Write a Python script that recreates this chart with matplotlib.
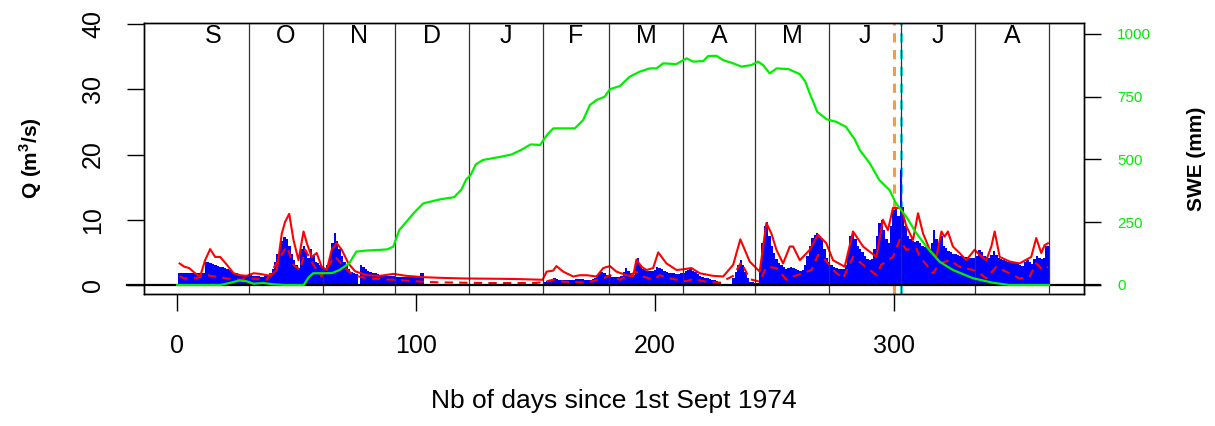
import numpy as np
import matplotlib
matplotlib.use("Agg")
import matplotlib.pyplot as plt
import matplotlib.transforms as mtransforms

plt.rcParams['font.family'] = ['Liberation Sans', 'DejaVu Sans']
plt.rcParams['mathtext.fontset'] = 'custom'
plt.rcParams['mathtext.rm'] = 'Liberation Sans'
plt.rcParams['mathtext.bf'] = 'Liberation Sans:bold'

# ---------------- data ----------------
nan = np.nan
# observed daily discharge Q (m3/s), days 1..365 since 1st Sept 1974
q_obs = [
    # 1-30
    1.8, 1.8, 1.8, 1.8, 1.8, 1.8, 1.8, 1.8, 1.8, 1.8,
    1.8, 3.6, 3.5, 3.3, 3.2, 3.1, 2.9, 2.8, 2.7, 2.6,
    2.4, 2.3, 2.1, 1.9, 1.8, 1.7, 1.6, 1.5, 1.5, 1.5,
    # 31-60
    1.5, 1.4, 1.4, 1.4, 1.3, 1.3, 1.4, 1.5, 1.8, 2.5,
    3.5, 4.8, 6.0, 6.8, 7.3, 7.0, 6.0, 4.8, 3.8, 3.0,
    2.6, 5.5, 6.0, 5.0, 4.2, 5.5, 4.5, 3.6, 3.3, 3.0,
    # 61-90
    2.8, 2.5, 3.0, 4.5, 6.5, 8.0, 6.8, 5.5, 4.5, 3.6,
    3.0, 2.4, 2.0, 1.8, 1.7, nan, 3.1, 2.7, 2.4, 2.2,
    2.0, 1.9, 1.8, 1.7, 1.6, 1.5, 1.5, 1.4, 1.4, 1.4,
    # 91-120
    1.4, 1.3, 1.3, 1.3, 1.3, 1.3, 1.3, 1.3, 1.3, 1.3,
    1.2, 1.8, 1.8, nan, nan, nan, nan, nan, nan, nan,
    nan, nan, nan, nan, nan, nan, nan, nan, nan, nan,
    # 121-150
    nan, nan, nan, nan, nan, nan, nan, nan, nan, nan,
    nan, nan, nan, nan, nan, nan, nan, nan, nan, nan,
    nan, nan, nan, nan, nan, nan, nan, nan, nan, nan,
    # 151-180
    nan, nan, nan, 0.5, 0.6, 0.8, 0.9, 1.0, 0.9, 0.8,
    0.7, 0.7, 0.7, 0.8, 0.8, 0.8, 0.9, 0.9, 0.9, 0.9,
    0.8, 0.8, 0.8, 0.9, 1.0, 1.5, 2.0, 2.0, 1.8, 1.6,
    # 181-210
    1.5, 1.2, 1.2, 1.3, 1.3, 1.4, 2.0, 2.6, 2.2, 1.8,
    1.6, 3.5, 4.1, 3.0, 2.5, 2.3, 2.2, 2.2, 2.1, 2.3,
    2.8, 2.6, 2.4, 2.2, 2.0, 1.9, 1.8, 1.8, 1.7, 1.7,
    # 211-240
    1.8, 1.9, 2.1, 2.3, 2.4, 2.2, 2.0, 1.7, 1.4, 1.2,
    1.1, 1.0, 0.9, 0.8, 0.7, 0.6, 0.5, nan, nan, nan,
    nan, nan, 1.0, 2.0, 3.0, 3.8, 3.0, 2.0, 1.0, 0.5,
    # 241-270
    0.4, 0.3, 0.3, 2.5, 6.5, 9.0, 9.7, 7.5, 5.9, 4.9,
    4.0, 3.3, 3.0, 2.7, 2.5, 2.6, 2.8, 2.6, 2.4, 2.3,
    2.2, 2.3, 3.0, 4.5, 6.0, 7.2, 7.6, 8.0, 7.5, 7.0,
    # 271-300
    5.5, 4.2, 3.5, 3.0, 2.8, 2.6, 2.5, 2.4, 2.5, 3.0,
    5.0, 7.5, 8.3, 7.0, 6.0, 5.5, 5.0, 4.5, 4.0, 3.8,
    4.0, 5.5, 7.5, 9.5, 10.0, 8.5, 7.0, 6.5, 9.0, 11.5,
    # 301-330
    11.8, 10.5, 17.6, 12.0, 9.0, 7.5, 7.0, 6.8, 6.6, 6.8,
    6.4, 6.0, 5.8, 5.6, 5.5, 6.5, 8.4, 7.0, 6.5, 7.5,
    6.0, 5.6, 5.2, 5.0, 4.8, 4.7, 4.6, 4.5, 4.4, 4.3,
    # 331-365
    4.3, 4.2, 4.1, 4.1, 4.5, 5.4, 5.0, 4.5, 4.3, 4.2,
    4.6, 5.2, 4.6, 4.2, 4.0, 3.8, 3.7, 3.6, 3.5, 3.4,
    3.3, 3.2, 3.0, 2.9, 3.5, 3.8, 3.5, 3.2, 4.0, 4.5,
    4.2, 4.0, 4.2, 6.0, 6.0,
]
obs_days = list(range(1, 366))

# simulated upper envelope (solid red)
upper_days = [1, 3, 5, 7.5, 9.6, 11.7, 13.8, 15.9, 18, 20.8, 23.6, 26.4, 29, 32, 34.7, 39,
              41.7, 43.8, 45.2, 46.9, 48.7, 50.8, 52.9, 54.3, 56.3, 58.4, 60.5, 62.6, 64.7,
              66.8, 68.9, 71.7, 74.5, 79.4, 84.9, 90.5, 96, 103, 110, 120, 135, 143.5, 153,
              154.7, 157.4, 158.8, 161.6, 165.8, 168.6, 171.4, 175.6, 178.4, 181.2, 183.9,
              188.1, 190.9, 192.3, 194.4, 196.5, 199.3, 201.4, 204.9, 209.1, 211.8, 215.3,
              218.8, 224.4, 228.6, 232.8, 235.8, 239.7, 243.9, 246.7, 248.8, 250.9, 253.7,
              256.5, 257.9, 260.7, 264.9, 268.3, 271.8, 274.6, 279.5, 283, 287.2, 292.8,
              295.5, 297.6, 299.7, 303.2, 305.3, 308.1, 310.2, 312.3, 315.1, 317.9, 320,
              321.3, 322.7, 324.8, 327.6, 330.4, 333.9, 336, 338.8, 340.9, 342.3, 344.4,
              348.5, 352.7, 357.6, 359.7, 361.8, 363.2, 364.6]
upper_q = [3.3, 2.8, 2.6, 1.8, 1.3, 3.8, 5.5, 4.3, 4.3, 3.1, 1.8, 1.5, 1.4, 1.8, 1.7, 1.4,
           2.3, 7.9, 9.7, 10.9, 6.9, 3.8, 8.2, 6.4, 4.3, 4.9, 2.8, 2.3, 5.4,
           6.4, 5.4, 3.3, 2.1, 1.5, 1.4, 1.7, 1.4, 1.2, 1.1, 1.0, 0.95, 0.9, 0.8,
           2.05, 2.2, 2.9, 2.05, 1.3, 1.5, 1.5, 1.3, 2.6, 2.9, 2.05,
           1.5, 1.3, 3.9, 2.8, 2.3, 2.6, 5.0, 3.3, 2.3, 2.4, 2.6,
           1.8, 1.4, 1.3, 3.1, 7.0, 3.6, 2.05, 9.5, 7.9, 5.4, 3.3,
           5.9, 5.9, 3.8, 5.4, 7.7, 6.4, 3.8, 2.8, 8.2, 5.9, 4.3,
           10.0, 8.4, 11.8, 11.8, 9.0, 6.9, 11.0, 7.9, 5.4, 4.3, 8.2,
           7.4, 8.2, 5.9, 4.9, 3.8, 5.4, 4.6, 3.8, 5.9, 8.2, 4.3,
           3.6, 3.3, 4.3, 7.2, 4.9, 6.1, 6.4]

# simulated lower envelope (dashed red)
lower_days = [1, 3, 7, 12.4, 15.9, 20.8, 26.4, 30.5, 37.5, 43.1, 45.9, 48.7, 51.5, 53.6, 57,
              60.5, 64, 66.1, 69.6, 73.8, 79.4, 90.5, 103, 110, 130, 150, 154, 157.4, 161.6,
              171.4, 178.4, 181.2, 185.3, 192.3, 195.1, 199.3, 202.1, 207.7, 213.2, 216,
              221.6, 227.2, 232.8, 236.2, 239.7, 243.9, 246.7, 250.9, 255.1, 257.9, 262,
              265.6, 268.3, 270.4, 274.6, 278.8, 283, 287.2, 292.8, 294.8, 296.9, 299.7,
              302.5, 305.3, 309.5, 310.9, 313.7, 316.5, 319.2, 323.4, 327.6, 333.2, 336,
              338.8, 343, 348.5, 352.7, 356.9, 359.7, 362.5, 364.6]
lower_q = [1.3, 1.0, 1.0, 1.5, 1.3, 1.0, 0.8, 1.0, 0.8, 4.3, 5.9, 3.1, 2.3, 5.4, 3.1,
           1.3, 3.3, 4.4, 2.8, 1.5, 1.0, 0.8, 0.5, 0.4, 0.3, 0.3, 0.5, 0.8, 0.5,
           0.36, 1.0, 1.5, 0.8, 2.0, 1.3, 0.8, 1.5, 0.9, 0.6, 0.9,
           0.5, 0.36, 1.4, 3.5, 0.9, 0.5, 2.8, 2.6, 0.8, 1.3, 1.8,
           2.3, 4.6, 4.3, 2.3, 1.0, 4.3, 3.1, 1.5, 3.1, 3.6, 4.3,
           6.9, 5.4, 5.6, 4.3, 3.1, 1.8, 3.3, 3.8, 2.8, 2.3, 1.8,
           1.0, 2.8, 1.8, 1.0, 1.3, 3.3, 2.3, 2.8]

# snow water equivalent (mm), right axis
swe_days = [0, 18, 22, 26, 29, 32, 36, 40, 45, 53, 55, 57, 62, 65, 68, 72, 75, 79, 85, 88,
            90.5, 93, 96, 99, 103, 110, 116, 119, 121, 123, 125, 128, 135, 140, 144, 148,
            152, 155, 157.5, 166.5, 170, 172.8, 175.6, 179, 181.2, 185.4, 189.5, 193.7,
            197.9, 200.7, 203.5, 209, 213.3, 216, 220.3, 222.3, 225.8, 228.6, 232.8, 236.3,
            240.4, 243.2, 245.3, 248.1, 251, 256, 260.7, 263, 265, 268, 272, 276, 280,
            283.7, 285.8, 290, 294, 298.3, 301, 305.3, 309.5, 313.7, 319.2, 324.8, 333.2,
            341.5, 348.5, 365]
swe_mm = [0, 0, 8, 18, 15, 5, 8, 3, 0, 0, 30, 47, 47, 48, 60, 86, 133, 137, 140, 142,
          153, 219, 252, 286, 325, 341, 350, 380, 420, 440, 480, 498, 510, 520, 538, 560,
          558, 600, 624, 624, 657, 717, 737, 750, 780, 793, 830, 850,
          863, 863, 883, 880, 903, 890, 892, 912, 913, 896, 883, 870,
          876, 890, 876, 843, 863, 860, 840, 810, 760, 690, 660, 650, 630,
          580, 538, 485, 418, 378, 325, 272, 206, 153, 93, 60, 27,
          9, 0, 0]

month_starts = [30, 61, 91, 122, 153, 181, 212, 242, 273, 303, 334, 365]
month_letters = ['S', 'O', 'N', 'D', 'J', 'F', 'M', 'A', 'M', 'J', 'J', 'A']
month_bounds = [0] + month_starts
peak_obs_day = 303
peak_sim_day = 300

q_ticks = [0, 10, 20, 30, 40]
swe_ticks = [0, 250, 500, 750, 1000]
day_ticks = [0, 100, 200, 300]

# ---------------- figure ----------------
W, H, DPI = 1215, 426, 100
fig = plt.figure(figsize=(W / DPI, H / DPI), dpi=DPI)
L, R, T, B = 144, 1084, 22.7, 294
ax = fig.add_axes([L / W, 1 - B / H, (R - L) / W, (B - T) / H])
ax.set_xlim(-13.9, 379.7)
ax.set_ylim(-1.38, 40.2)

# vertical reference lines (behind bars)
ax.axvline(peak_sim_day, color='#FF9933', lw=2.2, ls=(0, (3, 2.5)), zorder=1)
ax.axvline(peak_obs_day, color='#33E6F0', lw=2.2, ls=(0, (3, 2.5)), zorder=1)

# observed bars
d = np.array(obs_days, dtype=float)
q = np.array(q_obs, dtype=float)
m = np.isfinite(q)
ax.bar(d[m], q[m], width=1.0, color='#0000FF', linewidth=0, antialiased=False, zorder=2)

# simulated envelope
ax.plot(upper_days, upper_q, color='#FF0000', lw=1.5, zorder=3)
ax.plot(lower_days, lower_q, color='#FF0000', lw=1.5, ls=(0, (4, 3)), zorder=3)

# month separators and labels
for ms in month_starts:
    ax.axvline(ms, color='#333333', lw=0.9, zorder=4)
for i, lab in enumerate(month_letters):
    xc = 0.5 * (month_bounds[i] + month_bounds[i + 1])
    ax.text(xc, 37.1, lab, ha='center', va='baseline', fontsize=18, zorder=5)

# zero line extending beyond the box
blend = mtransforms.blended_transform_factory(ax.transAxes, ax.transData)
ax.plot([(127 - L) / (R - L), (1100 - L) / (R - L)], [0, 0], color='black', lw=1.6,
        transform=blend, clip_on=False, zorder=6)

# axes styling
for sp in ax.spines.values():
    sp.set_linewidth(1.0)
ax.set_xticks(day_ticks)
ax.set_yticks(q_ticks)
ax.tick_params(axis='both', direction='out', length=12, width=1.0, labelsize=18)
ax.tick_params(axis='x', pad=17)
ax.tick_params(axis='y', pad=16)
for lbl in ax.get_yticklabels():
    lbl.set_rotation(90)
    lbl.set_va('center')
ax.set_xlabel('Nb of days since 1st Sept 1974', fontsize=19, labelpad=22)
ax.set_ylabel(r'Q (m$^{\mathbf{3}}$/s)', fontsize=15, fontweight='bold', labelpad=27)

# SWE on right axis
ax2 = ax.twinx()
ax2.set_ylim(-35.9, 1045)
ax2.plot(swe_days, swe_mm, color='#00EE00', lw=1.6, zorder=5)
ax2.set_yticks(swe_ticks)
ax2.tick_params(axis='y', direction='out', length=12, width=1.0, labelsize=11,
                labelcolor='#00EE00', pad=12)
ax2.set_ylabel('SWE (mm)', fontsize=15, fontweight='bold', labelpad=26)
for sp in ax2.spines.values():
    sp.set_linewidth(1.0)

fig.savefig('out.png', dpi=DPI)
